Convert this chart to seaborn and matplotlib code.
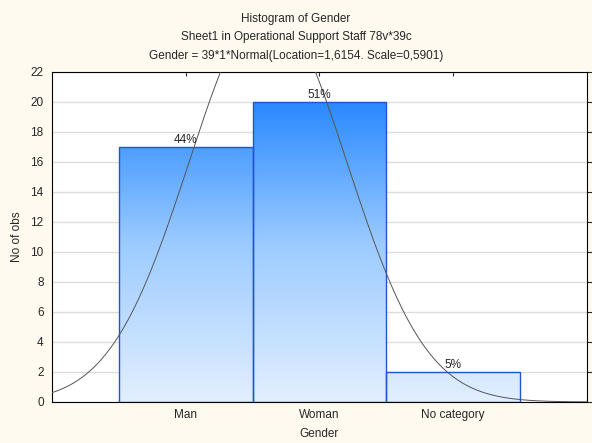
import numpy as np
import pandas as pd
import matplotlib
matplotlib.use("Agg")
import matplotlib.pyplot as plt
import seaborn as sns
from matplotlib.colors import LinearSegmentedColormap

categories = ["Man", "Woman", "No category"]
counts = [17, 20, 2]
pct_labels = ["44%", "51%", "5%"]
n_total = 39
fit_loc = 1.6154
fit_scale = 0.5901

sns.set_style("white")
plt.rcParams["font.family"] = ["Liberation Sans", "DejaVu Sans"]

df = pd.DataFrame({"Gender": categories, "count": counts})

fig = plt.figure(figsize=(5.92, 4.43), dpi=100, facecolor="#fffaf0")
ax = fig.add_axes([0.0878, 0.0926, 0.9035, 0.745])
ax.set_facecolor("white")

sns.barplot(data=df, x="Gender", y="count", width=1.0, ax=ax,
            color="white", edgecolor="#1f55d0", linewidth=1.0, zorder=3)

# gradient fill clipped to the bars
cmap = LinearSegmentedColormap.from_list("g", ["#e2efff", "#9ccbff", "#1c82ff"])
grad = np.linspace(0, 1, 256).reshape(-1, 1)
for p in ax.patches:
    p.set_facecolor("none")
    im = ax.imshow(grad, cmap=cmap, origin="lower", aspect="auto",
                   extent=[-1, 3, 0, 21], zorder=2)
    im.set_clip_path(p)
ax.set_xlim(-1, 3)
ax.set_ylim(0, 22)
ax.set_yticks(np.arange(0, 23, 2))

for i, (c, lab) in enumerate(zip(counts, pct_labels)):
    ax.text(i, c + 0.05, lab, ha="center", va="bottom", fontsize=8.5, zorder=5)

# fitted normal curve (category codes 1, 2, 3)
xs = np.linspace(0, 4, 400)
ys = n_total * np.exp(-0.5 * ((xs - fit_loc) / fit_scale) ** 2) / (fit_scale * np.sqrt(2 * np.pi))
ax.plot(xs - 1, ys, color="#555555", linewidth=0.7, zorder=4)

ax.grid(axis="y", color="#dddddd", linewidth=1.0, zorder=0)
ax.set_axisbelow(True)
for s in ax.spines.values():
    s.set_color("black")
    s.set_linewidth(0.8)

ax.tick_params(axis="y", direction="out", length=4, labelsize=8.5, right=True, pad=2)
ax.tick_params(axis="x", direction="in", length=3, labelsize=8.5, top=True, pad=5)
ax.set_xlabel("Gender", fontsize=8.5, labelpad=5)
ax.set_ylabel("No of obs", fontsize=8.5, labelpad=5)

fig.text(0.5, 0.958, "Histogram of Gender", ha="center", va="center", fontsize=8.5)
fig.text(0.5, 0.916, "Sheet1 in Operational Support Staff 78v*39c", ha="center", va="center", fontsize=8.5)
fig.text(0.5, 0.873, "Gender = 39*1*Normal(Location=1,6154. Scale=0,5901)", ha="center", va="center", fontsize=8.5)

fig.savefig("out.png", dpi=100, facecolor=fig.get_facecolor())
